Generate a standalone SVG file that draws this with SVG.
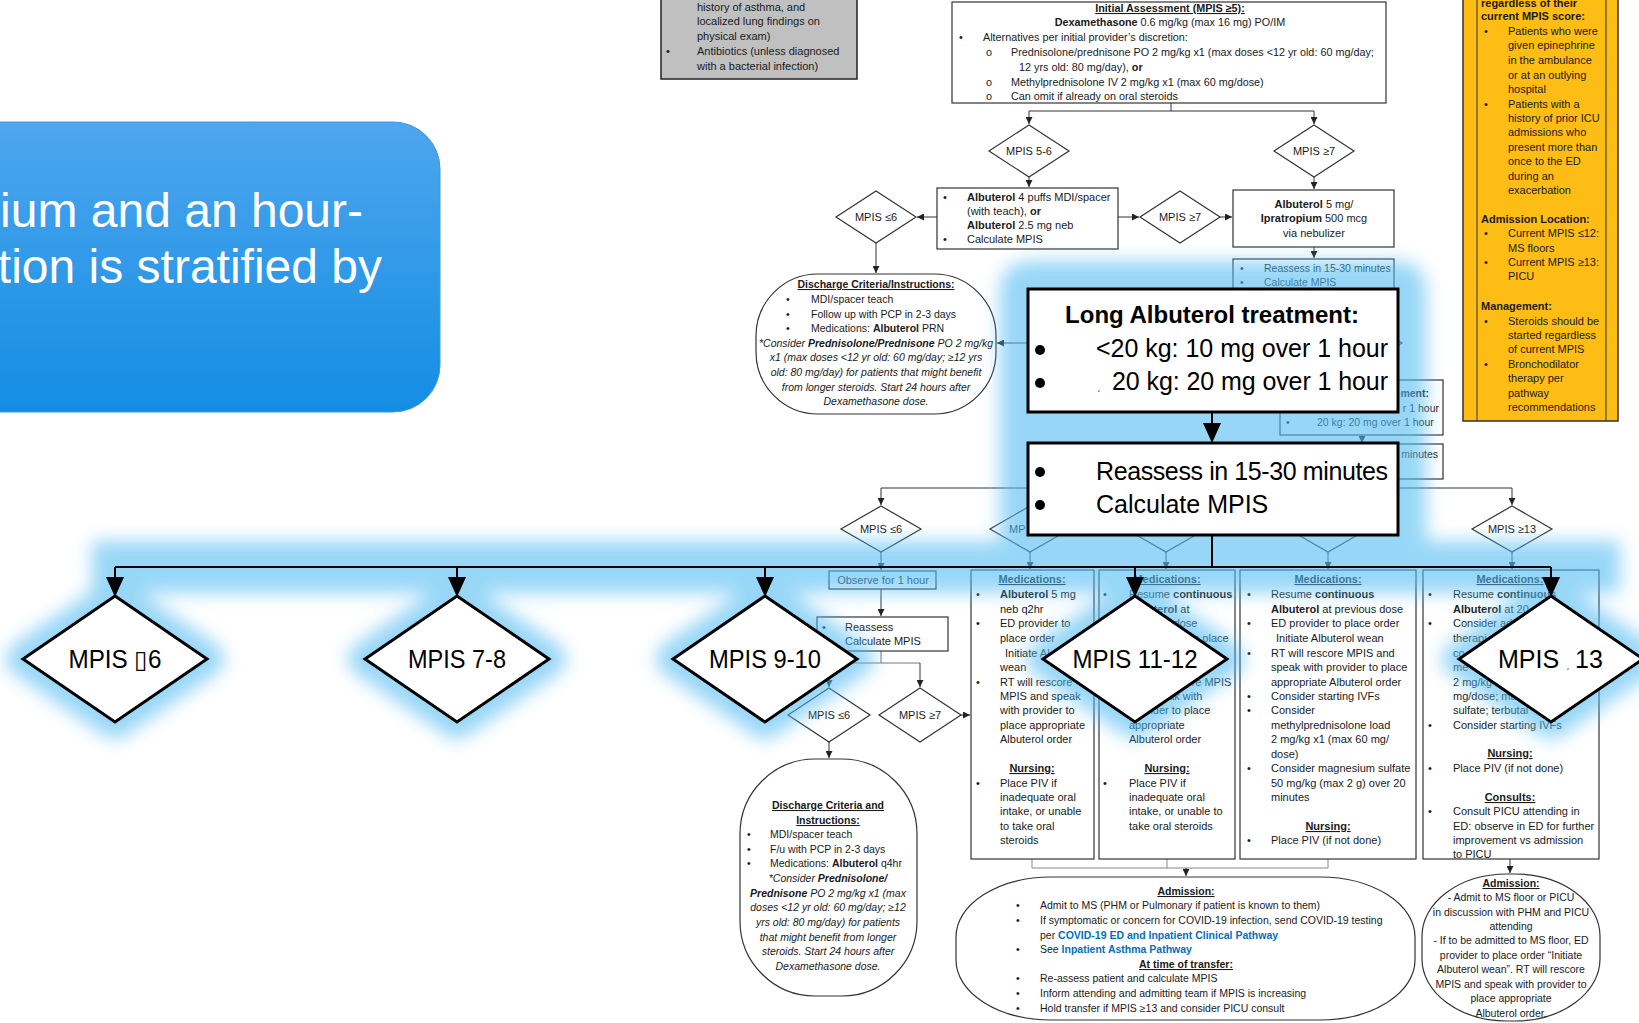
<svg xmlns="http://www.w3.org/2000/svg" width="1639" height="1023" viewBox="0 0 1639 1023">
<defs>
<style>
.t{font-family:'Liberation Sans',Arial,sans-serif;font-size:11px;fill:#1a1a1a}
.s{font-size:10.5px}
.s8{font-size:10.8px}
.b{font-weight:bold}
.i{font-style:italic}
.u{text-decoration:underline}
.m{text-anchor:middle}
.e{text-anchor:end}
.box{fill:#fff;stroke:#333;stroke-width:1.2}
.dia{fill:#fff;stroke:#333;stroke-width:1.2}
.ln{fill:none;stroke:#333;stroke-width:1}
.la{fill:none;stroke:#333;stroke-width:1;marker-end:url(#a)}
.lk{fill:#0070c0;font-weight:bold}
.big{font-family:'Liberation Sans',Arial,sans-serif;font-size:25px;fill:#000}
.bigd{fill:#fff;stroke:#000;stroke-width:3}
.gl{fill:#52bcf2;stroke:#52bcf2;stroke-linejoin:round}
</style>
<linearGradient id="bg" x1="0" y1="0" x2="0" y2="1"><stop offset="0" stop-color="#4ea6ee"/><stop offset="1" stop-color="#138de3"/></linearGradient>
<filter id="blur" x="-10%" y="-40%" width="120%" height="180%"><feGaussianBlur stdDeviation="9"/></filter>
<marker id="a" viewBox="0 0 8 8" refX="8" refY="4" markerWidth="7" markerHeight="7" markerUnits="userSpaceOnUse" orient="auto"><path d="M0,0L8,4L0,8z" fill="#222"/></marker>
</defs>
<rect width="1639" height="1023" fill="#fff"/>

<g id="intro-banner">
<rect x="-60" y="122" width="500" height="290" rx="47" fill="url(#bg)" stroke="#3a9ae6" stroke-width="1"/>
<text x="363" y="227" text-anchor="end" font-family="'Liberation Sans',Arial,sans-serif" font-size="48" fill="#fff">ium and an hour-</text>
<text x="382" y="283" text-anchor="end" font-family="'Liberation Sans',Arial,sans-serif" font-size="48" fill="#fff">tion is stratified by</text>
</g>

<g id="connectors">
<path class="ln" d="M1171,103V111M1029,111H1314"/>
<path class="la" d="M1029,111V124"/>
<path class="la" d="M1314,111V124"/>
<path class="la" d="M1029,177V187"/>
<path class="la" d="M1314,177V189"/>
<path class="la" d="M937,217H917"/>
<path class="la" d="M1118,217H1139"/>
<path class="la" d="M1220,217H1232"/>
<path class="la" d="M876,243V273"/>
<path class="la" d="M1314,247V258"/>
<path class="la" d="M1320,343H997"/>
<path class="la" d="M1362,435V443"/>
<path class="ln" d="M881,488H1512"/>
<path class="la" d="M881,488V505"/>
<path class="la" d="M1512,488V505"/>
<path class="la" d="M881,552V570"/>
<path class="la" d="M1030,552V569"/>
<path class="la" d="M1166,552V569"/>
<path class="la" d="M1328,552V569"/>
<path class="la" d="M1512,552V569"/>
<path class="la" d="M881,589V616"/>
<path class="ln" d="M881,651V663M829,663H920" style="stroke:#777"/>
<path class="la" d="M829,663V687"/>
<path class="la" d="M920,663V687"/>
<path class="la" d="M961,715H970"/>
<path class="la" d="M829,742V758"/>
<path class="ln" d="M1032,859V868H1328V859M1167,859V868" style="stroke:#888"/>
<path class="la" d="M1186,868V876"/>
<path class="la" d="M1510,859V873"/>
</g>

<g id="node-history">
<rect x="661" y="-2" width="196" height="81" fill="#c0c0c0" stroke="#222" stroke-width="1.5"/>
<text class="t" x="697" y="11">history of asthma, and</text>
<text class="t" x="697" y="25">localized lung findings on</text>
<text class="t" x="697" y="40">physical exam)</text>
<text class="t" x="666" y="55">•</text>
<text class="t" x="697" y="55">Antibiotics (unless diagnosed</text>
<text class="t" x="697" y="70">with a bacterial infection)</text>
</g>

<g id="node-initial-assessment">
<rect class="box" x="952" y="2" width="434" height="101"/>
<text class="t s8 b u m" x="1170" y="12">Initial Assessment (MPIS ≥5):</text>
<text class="t s8 m" x="1170" y="26"><tspan class="b">Dexamethasone</tspan> 0.6 mg/kg (max 16 mg) PO/IM</text>
<text class="t s8" x="959" y="41">•</text>
<text class="t s8" x="983" y="41">Alternatives per initial provider’s discretion:</text>
<text class="t s8" x="986" y="56">o</text>
<text class="t s8" x="1011" y="56">Prednisolone/prednisone PO 2 mg/kg x1 (max doses &lt;12 yr old: 60 mg/day;</text>
<text class="t s8" x="1019" y="71">12 yrs old: 80 mg/day), <tspan class="b">or</tspan></text>
<text class="t s8" x="986" y="86">o</text>
<text class="t s8" x="1011" y="86">Methylprednisolone IV 2 mg/kg x1 (max 60 mg/dose)</text>
<text class="t s8" x="986" y="100">o</text>
<text class="t s8" x="1011" y="100">Can omit if already on oral steroids</text>
</g>

<g id="node-yellow-criteria">
<rect x="1463" y="-2" width="155" height="423" fill="#fdbd14" stroke="#333" stroke-width="1.5"/>
<path class="ln" d="M1477,-2V421M1606,-2V421"/>
<text class="t b" x="1481" y="7">regardless of their</text>
<text class="t b" x="1481" y="20">current MPIS score:</text>
<text class="t" x="1484" y="35">•</text><text class="t" x="1508" y="35">Patients who were</text>
<text class="t" x="1508" y="49">given epinephrine</text>
<text class="t" x="1508" y="64">in the ambulance</text>
<text class="t" x="1508" y="79">or at an outlying</text>
<text class="t" x="1508" y="93">hospital</text>
<text class="t" x="1484" y="108">•</text><text class="t" x="1508" y="108">Patients with a</text>
<text class="t" x="1508" y="122">history of prior ICU</text>
<text class="t" x="1508" y="136">admissions who</text>
<text class="t" x="1508" y="151">present more than</text>
<text class="t" x="1508" y="165">once to the ED</text>
<text class="t" x="1508" y="180">during an</text>
<text class="t" x="1508" y="194">exacerbation</text>
<text class="t b" x="1481" y="223">Admission Location:</text>
<text class="t" x="1484" y="237">•</text><text class="t" x="1508" y="237">Current MPIS ≤12:</text>
<text class="t" x="1508" y="252">MS floors</text>
<text class="t" x="1484" y="266">•</text><text class="t" x="1508" y="266">Current MPIS ≥13:</text>
<text class="t" x="1508" y="280">PICU</text>
<text class="t b" x="1481" y="310">Management:</text>
<text class="t" x="1484" y="325">•</text><text class="t" x="1508" y="325">Steroids should be</text>
<text class="t" x="1508" y="339">started regardless</text>
<text class="t" x="1508" y="353">of current MPIS</text>
<text class="t" x="1484" y="368">•</text><text class="t" x="1508" y="368">Bronchodilator</text>
<text class="t" x="1508" y="382">therapy per</text>
<text class="t" x="1508" y="397">pathway</text>
<text class="t" x="1508" y="411">recommendations</text>
</g>

<g id="node-mpis-5-6">
<polygon class="dia" points="1029,125 1069,151 1029,177 989,151"/>
<text class="t m" x="1029" y="155">MPIS 5-6</text>
</g>
<g id="node-mpis-ge7-top">
<polygon class="dia" points="1314,125 1354,151 1314,177 1274,151"/>
<text class="t m" x="1314" y="155">MPIS ≥7</text>
</g>
<g id="node-albuterol-mdi">
<rect class="box" x="937" y="188" width="181" height="61"/>
<text class="t" x="943" y="201">•</text>
<text class="t" x="967" y="201"><tspan class="b">Albuterol</tspan> 4 puffs MDI/spacer</text>
<text class="t" x="967" y="215">(with teach), <tspan class="b">or</tspan></text>
<text class="t" x="967" y="229"><tspan class="b">Albuterol</tspan> 2.5 mg neb</text>
<text class="t" x="943" y="243">•</text>
<text class="t" x="967" y="243">Calculate MPIS</text>
</g>
<g id="node-mpis-le6-top">
<polygon class="dia" points="876,191 916,217 876,243 836,217"/>
<text class="t m" x="876" y="221">MPIS ≤6</text>
</g>
<g id="node-mpis-ge7-mid">
<polygon class="dia" points="1180,191 1220,217 1180,243 1140,217"/>
<text class="t m" x="1180" y="221">MPIS ≥7</text>
</g>
<g id="node-albuterol-ipratropium">
<rect class="box" x="1233" y="190" width="161" height="57"/>
<text class="t m" x="1314" y="208"><tspan class="b">Albuterol</tspan> 5 mg/</text>
<text class="t m" x="1314" y="222"><tspan class="b">Ipratropium</tspan> 500 mcg</text>
<text class="t m" x="1314" y="237">via nebulizer</text>
</g>
<g id="node-reassess-small">
<rect class="box" x="1233" y="259" width="161" height="42"/>
<text class="t s" x="1240" y="272">•</text>
<text class="t s" x="1264" y="272">Reassess in 15-30 minutes</text>
<text class="t s" x="1240" y="286">•</text>
<text class="t s" x="1264" y="286">Calculate MPIS</text>
</g>
<g id="node-discharge-1">
<rect class="box" x="756" y="274" width="240" height="140" rx="62" ry="62"/>
<text class="t s b u m" x="876" y="288">Discharge Criteria/Instructions:</text>
<text class="t s" x="786" y="303">•</text><text class="t s" x="811" y="303">MDI/spacer teach</text>
<text class="t s" x="786" y="318">•</text><text class="t s" x="811" y="318">Follow up with PCP in 2-3 days</text>
<text class="t s" x="786" y="332">•</text><text class="t s" x="811" y="332">Medications: <tspan class="b">Albuterol</tspan> PRN</text>
<text class="t s i m" x="876" y="347">*Consider <tspan class="b">Prednisolone/Prednisone</tspan> PO 2 mg/kg</text>
<text class="t s i m" x="876" y="361">x1 (max doses &lt;12 yr old: 60 mg/day; ≥12 yrs</text>
<text class="t s i m" x="876" y="376">old: 80 mg/day) for patients that might benefit</text>
<text class="t s i m" x="876" y="391">from longer steroids. Start 24 hours after</text>
<text class="t s i m" x="876" y="405">Dexamethasone dose.</text>
</g>
<g id="node-hidden-diamond">
<polygon class="dia" points="1361,319 1402,343 1361,367 1320,343"/>
</g>
<g id="node-long-albuterol-small">
<rect class="box" x="1280" y="380" width="163" height="55"/>
<text class="t s b e" x="1429" y="397">ment:</text>
<text class="t s e" x="1439" y="412">r 1 hour</text>
<text class="t s" x="1286" y="426">•</text>
<text class="t s" x="1317" y="426">20 kg: 20 mg over 1 hour</text>
</g>
<g id="node-minutes-small">
<rect class="box" x="1290" y="444" width="153" height="35"/>
<text class="t s e" x="1438" y="458">minutes</text>
</g>
<g id="node-mpis-le6-mid">
<polygon class="dia" points="881,506 921,529 881,552 841,529"/>
<text class="t m" x="881" y="533">MPIS ≤6</text>
</g>
<g id="node-mpis-7-8-small">
<polygon class="dia" points="1030,506 1070,529 1030,552 990,529"/>
<text class="t" x="1009" y="533">MP</text>
</g>
<g id="node-mpis-9-10-small">
<polygon class="dia" points="1166,506 1206,529 1166,552 1126,529"/>
</g>
<g id="node-mpis-11-12-small">
<polygon class="dia" points="1328,506 1368,529 1328,552 1288,529"/>
</g>
<g id="node-mpis-ge13-small">
<polygon class="dia" points="1512,506 1552,529 1512,552 1472,529"/>
<text class="t m" x="1512" y="533">MPIS ≥13</text>
</g>
<g id="node-observe">
<rect class="box" x="829" y="571" width="107" height="18"/>
<text class="t m" x="883" y="584">Observe for 1 hour</text>
</g>
<g id="node-reassess-2">
<rect class="box" x="817" y="617" width="131" height="34"/>
<text class="t" x="822" y="631">•</text><text class="t" x="845" y="631">Reassess</text>
<text class="t" x="822" y="645">•</text><text class="t" x="845" y="645">Calculate MPIS</text>
</g>
<g id="node-mpis-le6-low">
<polygon class="dia" points="829,688 870,715 829,742 788,715"/>
<text class="t m" x="829" y="719">MPIS ≤6</text>
</g>
<g id="node-mpis-ge7-low">
<polygon class="dia" points="920,688 961,715 920,742 879,715"/>
<text class="t m" x="920" y="719">MPIS ≥7</text>
</g>
<g id="node-discharge-2">
<rect class="box" x="740" y="759" width="177" height="237" rx="75" ry="75"/>
<text class="t s b u m" x="828" y="809">Discharge Criteria and</text>
<text class="t s b u m" x="828" y="824">Instructions:</text>
<text class="t s" x="747" y="838">•</text><text class="t s" x="770" y="838">MDI/spacer teach</text>
<text class="t s" x="747" y="853">•</text><text class="t s" x="770" y="853">F/u with PCP in 2-3 days</text>
<text class="t s" x="747" y="867">•</text><text class="t s" x="770" y="867">Medications: <tspan class="b">Albuterol</tspan> q4hr</text>
<text class="t s i m" x="828" y="882">*Consider <tspan class="b">Prednisolone/</tspan></text>
<text class="t s i m" x="828" y="897"><tspan class="b">Prednisone</tspan> PO 2 mg/kg x1 (max</text>
<text class="t s i m" x="828" y="911">doses &lt;12 yr old: 60 mg/day; ≥12</text>
<text class="t s i m" x="828" y="926">yrs old: 80 mg/day) for patients</text>
<text class="t s i m" x="828" y="941">that might benefit from longer</text>
<text class="t s i m" x="828" y="955">steroids. Start 24 hours after</text>
<text class="t s i m" x="828" y="970">Dexamethasone dose.</text>
</g>
<g id="node-col-7-8">
<rect class="box" x="971" y="570" width="123" height="289"/>
<text class="t b u m" x="1032" y="583">Medications:</text>
<text class="t" x="976" y="598">•</text><text class="t" x="1000" y="598"><tspan class="b">Albuterol</tspan> 5 mg</text>
<text class="t" x="1000" y="613">neb q2hr</text>
<text class="t" x="976" y="627">•</text><text class="t" x="1000" y="627">ED provider to</text>
<text class="t" x="1000" y="642">place order</text>
<text class="t" x="1005" y="657">Initiate Al</text>
<text class="t" x="1000" y="671">wean</text>
<text class="t" x="976" y="686">•</text><text class="t" x="1000" y="686">RT will rescore</text>
<text class="t" x="1000" y="700">MPIS and speak</text>
<text class="t" x="1000" y="714">with provider to</text>
<text class="t" x="1000" y="729">place appropriate</text>
<text class="t" x="1000" y="743">Albuterol order</text>
<text class="t b u m" x="1032" y="772">Nursing:</text>
<text class="t" x="976" y="787">•</text><text class="t" x="1000" y="787">Place PIV if</text>
<text class="t" x="1000" y="801">inadequate oral</text>
<text class="t" x="1000" y="815">intake, or unable</text>
<text class="t" x="1000" y="830">to take oral</text>
<text class="t" x="1000" y="844">steroids</text>
</g>
<g id="node-col-9-10">
<rect class="box" x="1099" y="570" width="136" height="289"/>
<text class="t b u m" x="1167" y="583">Medications:</text>
<text class="t" x="1103" y="598">•</text><text class="t" x="1129" y="598">Resume <tspan class="b">continuous</tspan></text>
<text class="t" x="1129" y="613"><tspan class="b">Albuterol</tspan> at</text>
<text class="t" x="1129" y="627">previous dose</text>
<text class="t" x="1129" y="642">ED provider to place</text>
<text class="t" x="1129" y="686">RT will rescore MPIS</text>
<text class="t" x="1129" y="700">and speak with</text>
<text class="t" x="1129" y="714">provider to place</text>
<text class="t" x="1129" y="729">appropriate</text>
<text class="t" x="1129" y="743">Albuterol order</text>
<text class="t b u m" x="1167" y="772">Nursing:</text>
<text class="t" x="1103" y="787">•</text><text class="t" x="1129" y="787">Place PIV if</text>
<text class="t" x="1129" y="801">inadequate oral</text>
<text class="t" x="1129" y="815">intake, or unable to</text>
<text class="t" x="1129" y="830">take oral steroids</text>
</g>
<g id="node-col-11-12">
<rect class="box" x="1240" y="570" width="176" height="289"/>
<text class="t b u m" x="1328" y="583">Medications:</text>
<text class="t" x="1247" y="598">•</text><text class="t" x="1271" y="598">Resume <tspan class="b">continuous</tspan></text>
<text class="t" x="1271" y="613"><tspan class="b">Albuterol</tspan> at previous dose</text>
<text class="t" x="1247" y="627">•</text><text class="t" x="1271" y="627">ED provider to place order</text>
<text class="t" x="1276" y="642">Initiate Albuterol wean</text>
<text class="t" x="1247" y="657">•</text><text class="t" x="1271" y="657">RT will rescore MPIS and</text>
<text class="t" x="1271" y="671">speak with provider to place</text>
<text class="t" x="1271" y="686">appropriate Albuterol order</text>
<text class="t" x="1247" y="700">•</text><text class="t" x="1271" y="700">Consider starting IVFs</text>
<text class="t" x="1247" y="714">•</text><text class="t" x="1271" y="714">Consider</text>
<text class="t" x="1271" y="729">methylprednisolone load</text>
<text class="t" x="1271" y="743">2 mg/kg x1 (max 60 mg/</text>
<text class="t" x="1271" y="758">dose)</text>
<text class="t" x="1247" y="772">•</text><text class="t" x="1271" y="772">Consider magnesium sulfate</text>
<text class="t" x="1271" y="787">50 mg/kg (max 2 g) over 20</text>
<text class="t" x="1271" y="801">minutes</text>
<text class="t b u m" x="1328" y="830">Nursing:</text>
<text class="t" x="1247" y="844">•</text><text class="t" x="1271" y="844">Place PIV (if not done)</text>
</g>
<g id="node-col-ge13">
<rect class="box" x="1423" y="570" width="176" height="289"/>
<text class="t b u m" x="1510" y="583">Medications:</text>
<text class="t" x="1428" y="598">•</text><text class="t" x="1453" y="598">Resume <tspan class="b">continuous</tspan></text>
<text class="t" x="1453" y="613"><tspan class="b">Albuterol</tspan> at 20</text>
<text class="t" x="1428" y="627">•</text><text class="t" x="1453" y="627">Consider ad</text>
<text class="t" x="1453" y="642">therapi</text>
<text class="t" x="1453" y="657">co</text>
<text class="t" x="1453" y="671">me</text>
<text class="t" x="1453" y="686">2 mg/kg</text>
<text class="t" x="1453" y="700">mg/dose; ma</text>
<text class="t" x="1453" y="714">sulfate; terbutal</text>
<text class="t" x="1428" y="729">•</text><text class="t" x="1453" y="729">Consider starting IVFs</text>
<text class="t b u m" x="1510" y="757">Nursing:</text>
<text class="t" x="1428" y="772">•</text><text class="t" x="1453" y="772">Place PIV (if not done)</text>
<text class="t b u m" x="1510" y="801">Consults:</text>
<text class="t" x="1428" y="815">•</text><text class="t" x="1453" y="815">Consult PICU attending in</text>
<text class="t" x="1453" y="830">ED: observe in ED for further</text>
<text class="t" x="1453" y="844">improvement vs admission</text>
<text class="t" x="1453" y="858">to PICU</text>
</g>
<g id="node-admission">
<rect class="box" x="956" y="877" width="459" height="143" rx="95" ry="60"/>
<text class="t s b u m" x="1186" y="895">Admission:</text>
<text class="t s" x="1016" y="909">•</text><text class="t s" x="1040" y="909">Admit to MS (PHM or Pulmonary if patient is known to them)</text>
<text class="t s" x="1016" y="924">•</text><text class="t s" x="1040" y="924">If symptomatic or concern for COVID-19 infection, send COVID-19 testing</text>
<text class="t s" x="1040" y="939">per <tspan class="lk">COVID-19 ED and Inpatient Clinical Pathway</tspan></text>
<text class="t s" x="1016" y="953">•</text><text class="t s" x="1040" y="953">See <tspan class="lk">Inpatient Asthma Pathway</tspan></text>
<text class="t s b u m" x="1186" y="968">At time of transfer:</text>
<text class="t s" x="1016" y="982">•</text><text class="t s" x="1040" y="982">Re-assess patient and calculate MPIS</text>
<text class="t s" x="1016" y="997">•</text><text class="t s" x="1040" y="997">Inform attending and admitting team if MPIS is increasing</text>
<text class="t s" x="1016" y="1012">•</text><text class="t s" x="1040" y="1012">Hold transfer if MPIS ≥13 and consider PICU consult</text>
</g>
<g id="node-admission-picu">
<rect class="box" x="1422" y="874" width="178" height="147" rx="85" ry="62"/>
<text class="t s b u m" x="1511" y="887">Admission:</text>
<text class="t s m" x="1511" y="901">- Admit to MS floor or PICU</text>
<text class="t s m" x="1511" y="916">in discussion with PHM and PICU</text>
<text class="t s m" x="1511" y="930">attending</text>
<text class="t s m" x="1511" y="944">- If to be admitted to MS floor, ED</text>
<text class="t s m" x="1511" y="959">provider to place order “Initiate</text>
<text class="t s m" x="1511" y="973">Albuterol wean”. RT will rescore</text>
<text class="t s m" x="1511" y="988">MPIS and speak with provider to</text>
<text class="t s m" x="1511" y="1002">place appropriate</text>
<text class="t s m" x="1511" y="1017">Albuterol order.</text>
</g>

<g id="glow" filter="url(#blur)" opacity="0.6">
<path class="gl" d="M92,567H1620" stroke-width="52" fill="none"/>
<rect class="gl" x="1028" y="289" width="370" height="246" stroke-width="56"/>
<polygon class="gl" stroke-width="34" points="115,596 207,659 115,722 23,659"/>
<polygon class="gl" stroke-width="34" points="457,596 549,659 457,722 365,659"/>
<polygon class="gl" stroke-width="34" points="765,596 857,659 765,722 673,659"/>
<polygon class="gl" stroke-width="34" points="1135,596 1227,659 1135,722 1043,659"/>
<polygon class="gl" stroke-width="34" points="1551,596 1643,659 1551,722 1459,659"/>
</g>

<g id="connectors-main">
<path d="M115,567H1551M1212,535V567M115,567V578M457,567V578M765,567V578M1135,567V578M1551,567V578M1212,412V424" stroke="#000" stroke-width="2" fill="none"/>
<polygon points="106,577 124,577 115,597" fill="#000"/>
<polygon points="448,577 466,577 457,597" fill="#000"/>
<polygon points="756,577 774,577 765,597" fill="#000"/>
<polygon points="1126,577 1144,577 1135,597" fill="#000"/>
<polygon points="1542,577 1560,577 1551,597" fill="#000"/>
<polygon points="1203,423 1221,423 1212,443" fill="#000"/>
</g>

<g id="node-long-albuterol">
<rect x="1028" y="289" width="370" height="123" fill="#fff" stroke="#000" stroke-width="3"/>
<text class="big b m" x="1212" y="323" style="font-size:24px">Long Albuterol treatment:</text>
<circle cx="1040" cy="350" r="5" fill="#000"/>
<text class="big" x="1096" y="357" textLength="292" lengthAdjust="spacing">&lt;20 kg: 10 mg over 1 hour</text>
<circle cx="1040" cy="383" r="5" fill="#000"/>
<text class="big" x="1097" y="390" style="font-size:10px">ˏ</text>
<text class="big" x="1112" y="390" textLength="276" lengthAdjust="spacing">20 kg: 20 mg over 1 hour</text>
</g>
<g id="node-reassess-big">
<rect x="1028" y="443" width="370" height="92" fill="#fff" stroke="#000" stroke-width="3"/>
<circle cx="1040" cy="472" r="5" fill="#000"/>
<text class="big" x="1096" y="480" textLength="292" lengthAdjust="spacing">Reassess in 15-30 minutes</text>
<circle cx="1040" cy="505" r="5" fill="#000"/>
<text class="big" x="1096" y="513">Calculate MPIS</text>
</g>
<g id="node-big-mpis-le6">
<polygon class="bigd" points="115,596 207,659 115,722 23,659"/>
<text class="big m" x="115" y="668" textLength="93" lengthAdjust="spacingAndGlyphs">MPIS ▯6</text>
</g>
<g id="node-big-mpis-7-8">
<polygon class="bigd" points="457,596 549,659 457,722 365,659"/>
<text class="big m" x="457" y="668" textLength="98" lengthAdjust="spacingAndGlyphs">MPIS 7-8</text>
</g>
<g id="node-big-mpis-9-10">
<polygon class="bigd" points="765,596 857,659 765,722 673,659"/>
<text class="big m" x="765" y="668" textLength="112" lengthAdjust="spacingAndGlyphs">MPIS 9-10</text>
</g>
<g id="node-big-mpis-11-12">
<polygon class="bigd" points="1135,596 1227,659 1135,722 1043,659"/>
<text class="big m" x="1135" y="668" textLength="125" lengthAdjust="spacingAndGlyphs">MPIS 11-12</text>
</g>
<g id="node-big-mpis-ge13">
<polygon class="bigd" points="1551,596 1643,659 1551,722 1459,659"/>
<text class="big" x="1498" y="668">MPIS</text>
<text class="big" x="1566" y="668" style="font-size:10px">ˏ</text>
<text class="big" x="1575" y="668">13</text>
</g>
</svg>
